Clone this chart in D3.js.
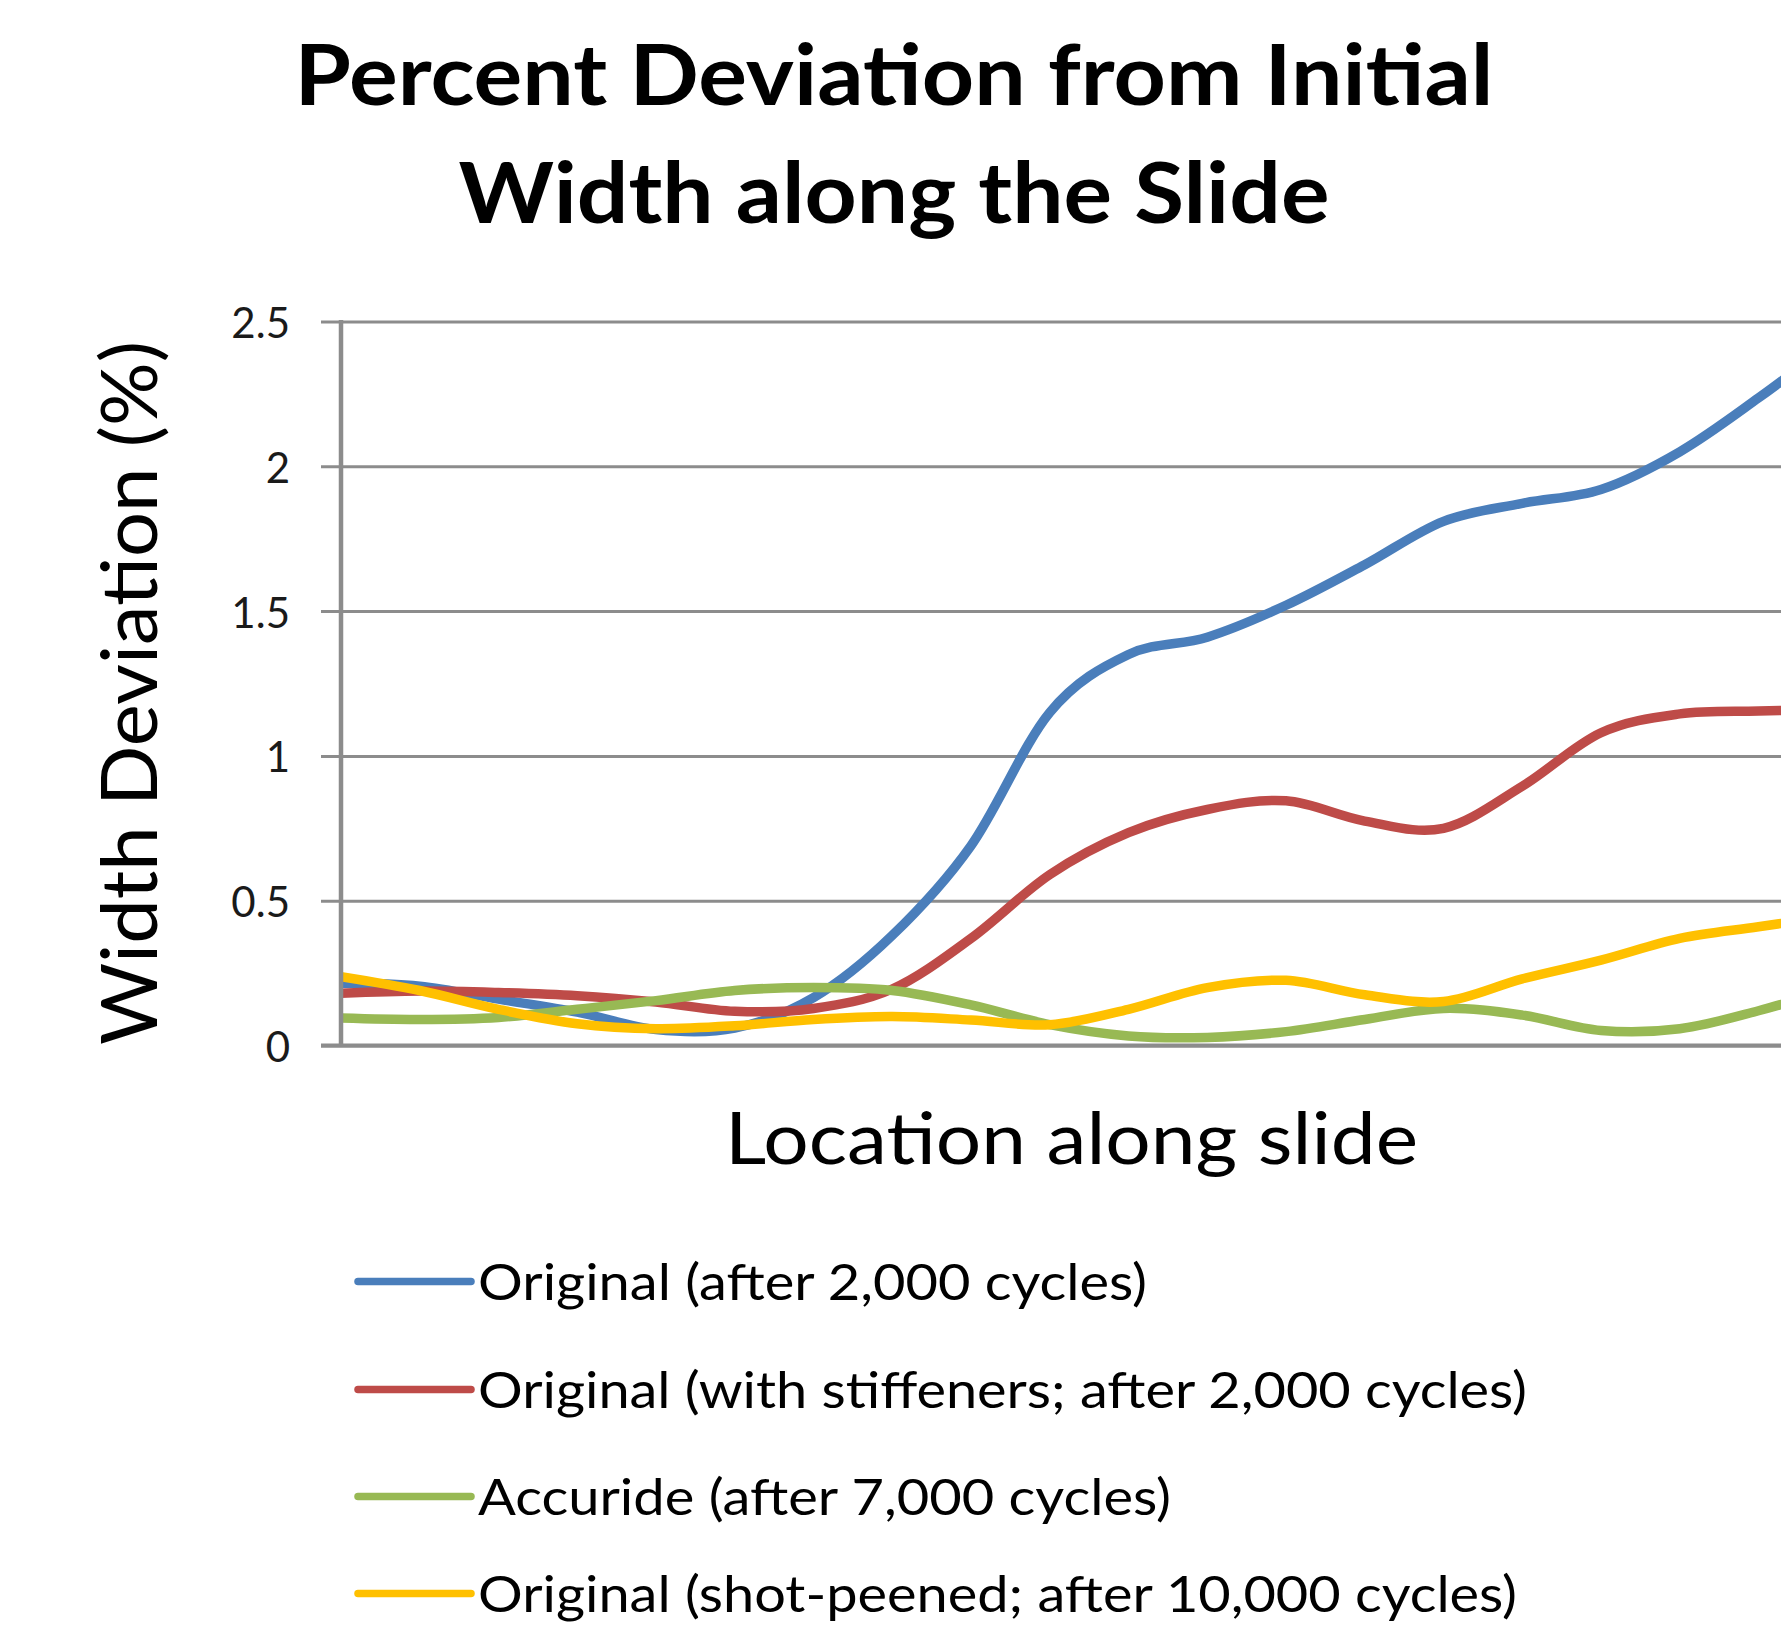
<!DOCTYPE html>
<html>
<head>
<meta charset="utf-8">
<script src="https://cdn.jsdelivr.net/npm/d3@7"></script>
<style>
  html, body { margin: 0; padding: 0; background: #fff; }
  svg { display: block; font-family: Lato, "Open Sans", sans-serif; }
</style>
</head>
<body>
<svg id="chart" width="1781" height="1626"></svg>
<script>
// Measurement stations along the slide (arbitrary units)
const locations = [1, 2, 3, 4, 5, 6, 7, 8, 9, 10, 11, 12, 13, 14, 15, 16, 17, 18, 19, 20];

// Width deviation (%) at each station
const original2000 = [0.215, 0.205, 0.16, 0.115, 0.055, 0.06, 0.165, 0.38, 0.69, 1.15, 1.35, 1.41, 1.52, 1.66, 1.81, 1.872, 1.92, 2.05, 2.236, 2.44];
const stiffened2000 = [0.18, 0.188, 0.183, 0.172, 0.15, 0.118, 0.128, 0.195, 0.37, 0.59, 0.735, 0.815, 0.845, 0.775, 0.75, 0.895, 1.08, 1.145, 1.155, 1.16];
const accuride7000 = [0.095, 0.09, 0.097, 0.125, 0.155, 0.19, 0.2, 0.19, 0.14, 0.072, 0.033, 0.028, 0.048, 0.09, 0.128, 0.105, 0.052, 0.058, 0.12, 0.2];
const peened10000 = [0.238, 0.19, 0.125, 0.075, 0.058, 0.068, 0.09, 0.1, 0.088, 0.072, 0.125, 0.2, 0.225, 0.175, 0.152, 0.23, 0.295, 0.37, 0.41, 0.45];

const seriesNames = [
  "Original (after 2,000 cycles)",
  "Original (with stiffeners; after 2,000 cycles)",
  "Accuride (after 7,000 cycles)",
  "Original (shot-peened; after 10,000 cycles)"
];
const seriesColors = ["#4a7ebb", "#be4b48", "#98b954", "#ffc000"];
const seriesValues = [original2000, stiffened2000, accuride7000, peened10000];

const yTicks = [0, 0.5, 1, 1.5, 2, 2.5];

const W = 1781, H = 1626;
const plotLeft = 341, plotTop = 321.5, plotBottom = 1045.5;
const step = 78.75;

const svg = d3.select("#chart");

const x = d3.scaleLinear().domain([1, 19.5]).range([plotLeft, plotLeft + 18.5 * step]);
const y = d3.scaleLinear().domain([0, 2.5]).range([plotBottom, plotTop]);

const gridColor = "#8c8c8c";

// Horizontal gridlines with tick labels
const yAxis = d3.axisLeft(y)
  .tickValues(yTicks)
  .tickFormat(d => String(d))
  .tickSizeInner(-(W - plotLeft))
  .tickSizeOuter(0);

const gy = svg.append("g")
  .attr("transform", `translate(${plotLeft},0)`)
  .call(yAxis);
gy.select(".domain").remove();
gy.selectAll(".tick line")
  .attr("x1", -20)
  .attr("stroke", gridColor)
  .attr("stroke-width", 3);
gy.selectAll(".tick text")
  .attr("x", -51)
  .attr("dy", "0.38em")
  .attr("text-anchor", "end")
  .attr("fill", "#1a1a1a")
  .style("font-size", "42px")
  .style("font-family", "Lato, sans-serif");

// Series lines
const plot = svg.append("g");
plot.append("clipPath").attr("id", "plotClip")
  .append("rect").attr("x", plotLeft).attr("y", 0).attr("width", W - plotLeft).attr("height", H);

const line = d3.line()
  .x((d, i) => x(locations[i]))
  .y(d => y(d))
  .curve(d3.curveCatmullRom.alpha(0));

plot.append("g").attr("clip-path", "url(#plotClip)")
  .selectAll("path")
  .data(seriesValues)
  .join("path")
  .attr("d", d => line(d))
  .attr("fill", "none")
  .attr("stroke", (d, i) => seriesColors[i])
  .attr("stroke-width", 9.5)
  .attr("stroke-linecap", "round")
  .attr("stroke-linejoin", "round");

// Category axis (no tick labels)
const xAxis = d3.axisBottom(x).tickValues([]).tickSizeOuter(0);
const gx = svg.append("g")
  .attr("transform", `translate(0,${plotBottom})`)
  .call(xAxis);
gx.select(".domain")
  .attr("d", `M${plotLeft - 20},0H${W}`)
  .attr("stroke", gridColor)
  .attr("stroke-width", 4);

// Value axis line
svg.append("line")
  .attr("x1", plotLeft).attr("x2", plotLeft)
  .attr("y1", plotTop - 1.5).attr("y2", plotBottom + 1.5)
  .attr("stroke", gridColor)
  .attr("stroke-width", 4.5);

// Title
const title = svg.append("g")
  .attr("font-weight", "bold")
  .attr("text-anchor", "middle")
  .attr("fill", "#000")
  .style("font-size", "84px");
title.append("text")
  .attr("x", 894).attr("y", 104.5)
  .attr("textLength", 1199).attr("lengthAdjust", "spacingAndGlyphs")
  .text("Percent Deviation from Initial");
title.append("text")
  .attr("x", 894).attr("y", 222.5)
  .attr("textLength", 871).attr("lengthAdjust", "spacingAndGlyphs")
  .text("Width along the Slide");

// Axis titles
svg.append("text")
  .attr("transform", "translate(157,693) rotate(-90)")
  .attr("text-anchor", "middle")
  .attr("fill", "#000")
  .style("font-size", "78px")
  .attr("textLength", 704).attr("lengthAdjust", "spacingAndGlyphs")
  .text("Width Deviation (%)");

svg.append("text")
  .attr("x", 1071.5).attr("y", 1164)
  .attr("text-anchor", "middle")
  .attr("fill", "#000")
  .style("font-size", "71px")
  .attr("textLength", 693).attr("lengthAdjust", "spacingAndGlyphs")
  .text("Location along slide");

// Legend
const legendBaselines = [1300, 1408, 1515, 1612];
const legendWidths = [669, 1049, 693, 1039];
const legend = svg.append("g");
const rows = legend.selectAll("g")
  .data(seriesNames)
  .join("g")
  .attr("transform", (d, i) => `translate(0,${legendBaselines[i]})`);
rows.append("line")
  .attr("x1", 358).attr("x2", 471)
  .attr("y1", -18.5).attr("y2", -18.5)
  .attr("stroke", (d, i) => seriesColors[i])
  .attr("stroke-width", 7.5)
  .attr("stroke-linecap", "round");
rows.append("text")
  .attr("x", 478)
  .attr("fill", "#000")
  .style("font-size", "50px")
  .attr("textLength", (d, i) => legendWidths[i])
  .attr("lengthAdjust", "spacingAndGlyphs")
  .text(d => d);
</script>
</body>
</html>
